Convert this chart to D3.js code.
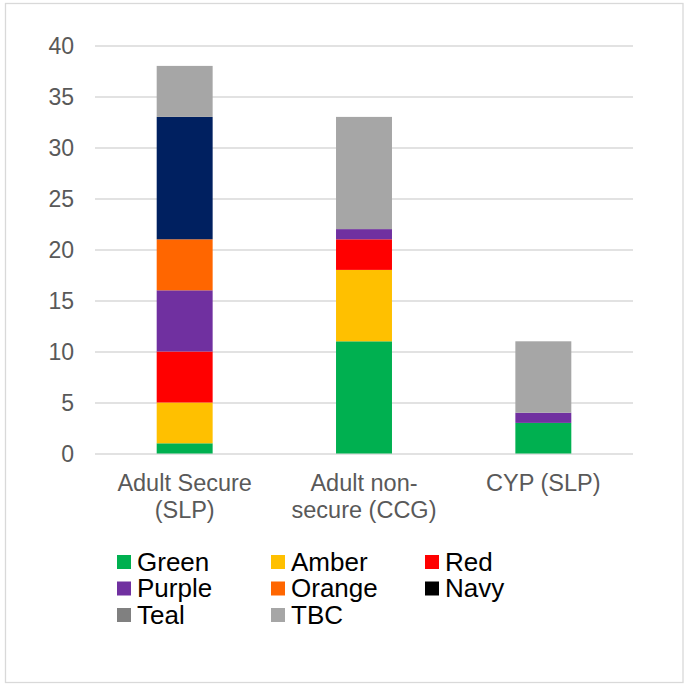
<!DOCTYPE html>
<html>
<head>
<meta charset="utf-8">
<script src="https://cdn.jsdelivr.net/npm/d3@7"></script>
<style>
  body { margin: 0; background: #fff; }
  text { font-family: Arial, "Liberation Sans", sans-serif; }
</style>
</head>
<body>
<svg width="684" height="684"></svg>
<script>
const categories = [['Adult Secure', '(SLP)'], ['Adult non-', 'secure (CCG)'], ['CYP (SLP)']];
const seriesNames = ['Green', 'Amber', 'Red', 'Purple', 'Orange', 'Navy', 'Teal', 'TBC'];
const barColors = ['#00b050', '#ffc000', '#ff0000', '#7030a0', '#ff6600', '#002060', '#808080', '#a6a6a6'];
const legendColors = ['#00b050', '#ffc000', '#ff0000', '#7030a0', '#ff6600', '#000000', '#808080', '#a6a6a6'];
const green  = [1, 11, 3];
const amber  = [4, 7, 0];
const red    = [5, 3, 0];
const purple = [6, 1, 1];
const orange = [5, 0, 0];
const navy   = [12, 0, 0];
const teal   = [0, 0, 0];
const tbc    = [5, 11, 7];
const yTicks = [0, 5, 10, 15, 20, 25, 30, 35, 40];

function whenLoaded(){
    const svg = d3.select('svg');
    const seriesValues = [green, amber, red, purple, orange, navy, teal, tbc];

    const table = categories.map((c, i) => {
        const row = {key: i};
        seriesNames.forEach((s, j) => row[s] = seriesValues[j][i]);
        return row;
    });
    const stacked = d3.stack().keys(seriesNames)(table);

    // chart border
    svg.append('rect')
    .attr('x', 5.5).attr('y', 3.5)
    .attr('width', 677.5).attr('height', 679)
    .attr('fill', 'none')
    .attr('stroke', '#d9d9d9')
    .attr('stroke-width', 1.3);

    const xScale = d3.scaleBand()
    .domain(d3.range(categories.length))
    .range([95, 633])
    .paddingInner(0.688)
    .paddingOuter(0.344);

    const yScale = d3.scaleLinear()
    .domain([0, 40])
    .range([453.5, 45.5]);

    const yAxis = d3.axisLeft(yScale)
    .tickValues(yTicks)
    .tickSize(-538)
    .tickPadding(21);

    const yAxisG = svg.append('g')
    .attr('transform', 'translate(95,0)')
    .call(yAxis);
    yAxisG.select('.domain').remove();
    yAxisG.selectAll('line')
    .attr('stroke', '#d9d9d9')
    .attr('stroke-width', 1.5);
    yAxisG.selectAll('text')
    .attr('fill', '#595959')
    .style('font-size', '23px')
    .attr('dy', '0.36em');

    svg.append('g').selectAll('g').data(stacked)
    .enter()
    .append('g')
    .attr('fill', (d, i) => barColors[i])
    .selectAll('rect').data(d => d)
    .enter()
    .append('rect')
    .attr('x', d => xScale(d.data.key))
    .attr('width', xScale.bandwidth())
    .attr('y', d => yScale(d[1]))
    .attr('height', d => yScale(d[0]) - yScale(d[1]));

    // category labels
    const catG = svg.append('g').selectAll('text').data(categories)
    .enter()
    .append('text')
    .attr('text-anchor', 'middle')
    .attr('fill', '#595959')
    .style('font-size', '23.5px');
    catG.selectAll('tspan').data((d, i) => d.map(line => ({line, i})))
    .enter()
    .append('tspan')
    .attr('x', d => xScale(d.i) + xScale.bandwidth() / 2)
    .attr('y', (d, k) => 491 + k * 26.5)
    .text(d => d.line);

    // legend
    const colX = [117, 271, 425];
    const rowY = [555, 581.5, 608];
    const legend = svg.append('g').selectAll('g').data(seriesNames)
    .enter()
    .append('g')
    .attr('transform', (d, i) => `translate(${colX[i % 3]},${rowY[Math.floor(i / 3)]})`);
    legend.append('rect')
    .attr('width', 14).attr('height', 14)
    .attr('fill', (d, i) => legendColors[i]);
    legend.append('text')
    .attr('x', 20).attr('y', 15.5)
    .attr('fill', '#000')
    .style('font-size', '26px')
    .text(d => d);
}

window.onload = whenLoaded;
</script>
</body>
</html>
